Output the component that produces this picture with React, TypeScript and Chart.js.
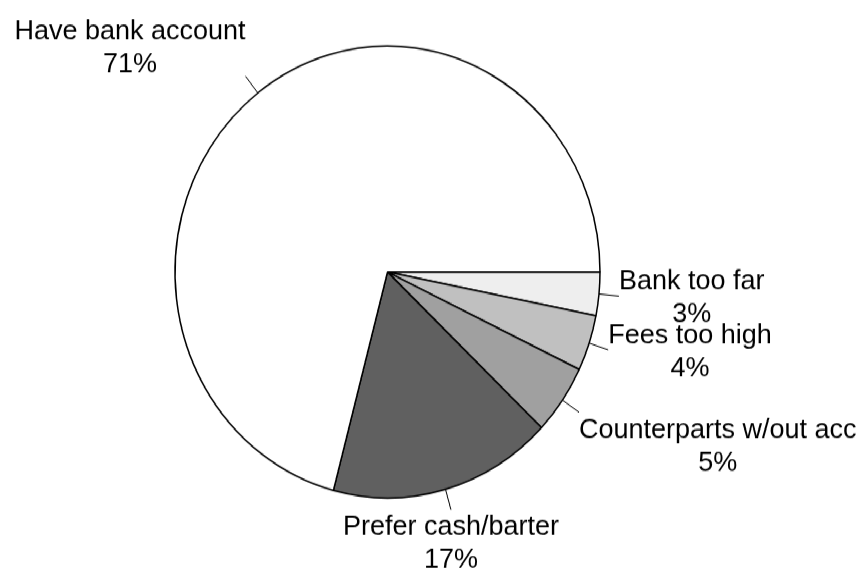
import React, { useEffect, useRef } from "react";
import { Chart, registerables } from "chart.js";

Chart.register(...registerables);

// ---- data ----
const categories = [
  "Bank too far",
  "Fees too high",
  "Counterparts w/out acc",
  "Prefer cash/barter",
  "Have bank account",
];
const shares = [3.1, 4.0, 5.0, 17.0, 70.9];
const sliceColors = ["#eeeeee", "#c0c0c0", "#a0a0a0", "#606060", "#ffffff"];

// ---- layout ----
const W = 866;
const H_SCREEN = 572;
const H = 538; // drawing height; stretched vertically by CSS to reproduce the elliptical pie
const K = H_SCREEN / H;
const FONT_SIZE = 27;
const LINE_GAP = 33;
const TICK = 20;

const labelPlugin = {
  id: "pieLabels",
  afterDatasetsDraw(chart: any) {
    const ctx: CanvasRenderingContext2D = chart.ctx;
    const meta = chart.getDatasetMeta(0);
    const data = chart.data.datasets[0].data as number[];
    const labels = chart.data.labels as string[];
    ctx.save();
    meta.data.forEach((arc: any, i: number) => {
      const { x, y, startAngle, endAngle, outerRadius } = arc.getProps(
        ["x", "y", "startAngle", "endAngle", "outerRadius"],
        true
      );
      const mid = (startAngle + endAngle) / 2;
      const c = Math.cos(mid);
      const s = Math.sin(mid);
      const x0 = x + c * outerRadius;
      const y0 = y + s * outerRadius;
      const x1 = x + c * (outerRadius + TICK);
      const y1 = y + s * (outerRadius + TICK);
      ctx.beginPath();
      ctx.strokeStyle = "#000";
      ctx.lineWidth = 1;
      ctx.moveTo(x0, y0);
      ctx.lineTo(x1, y1);
      ctx.stroke();

      // text in screen units
      const lines = [labels[i], Math.round(data[i]) + "%"];
      ctx.save();
      ctx.scale(1, 1 / K);
      ctx.font = `${FONT_SIZE}px "Liberation Sans", Arial, sans-serif`;
      ctx.fillStyle = "#000";
      ctx.textAlign = "center";
      ctx.textBaseline = "alphabetic";
      const ax = x1;
      const ay = y1 * K;
      const ang = Math.atan2(s * K, c);
      const cs = Math.cos(ang);
      const ss = Math.sin(ang);
      const capH = FONT_SIZE * 0.716;
      const blockH = capH + LINE_GAP;
      const w = Math.max(...lines.map((l) => ctx.measureText(l).width));
      let cx: number;
      if (Math.abs(cs) < 0.35) cx = ax;
      else if (cs > 0) cx = ax + w / 2;
      else cx = ax - w / 2;
      let base1: number;
      if (ss >= 0.5) base1 = ay + 6 + capH;
      else if (ss <= -0.5) base1 = ay - 4 - LINE_GAP;
      else base1 = ay - blockH / 2 + capH;
      lines.forEach((l, j) => ctx.fillText(l, cx, base1 + j * LINE_GAP));
      ctx.restore();
    });
    ctx.restore();
  },
};

export default function App() {
  const ref = useRef<HTMLCanvasElement | null>(null);
  useEffect(() => {
    if (!ref.current) return;
    const cx = 387.5;
    const cy = 272 / K;
    const half = 213.25;
    const chart = new Chart(ref.current, {
      type: "pie",
      data: {
        labels: categories,
        datasets: [
          {
            data: shares,
            backgroundColor: sliceColors,
            borderColor: "#000",
            borderWidth: 1.5,
            hoverBorderWidth: 1.5,
            hoverOffset: 0,
          },
        ],
      },
      options: {
        animation: false,
        responsive: false,
        rotation: 90,
        events: [],
        layout: {
          padding: {
            left: cx - half,
            right: W - (cx + half),
            top: cy - half,
            bottom: H - (cy + half),
          },
        },
        plugins: {
          legend: { display: false },
          tooltip: { enabled: false },
          title: { display: false },
        },
      },
      plugins: [labelPlugin],
    });
    return () => chart.destroy();
  }, []);
  return (
    <div
      style={{
        position: "absolute",
        left: 0,
        top: 0,
        width: W,
        height: H,
        transform: `scaleY(${K})`,
        transformOrigin: "0 0",
        background: "#fff",
      }}
    >
      <canvas ref={ref} width={W} height={H} style={{ display: "block" }} />
    </div>
  );
}
